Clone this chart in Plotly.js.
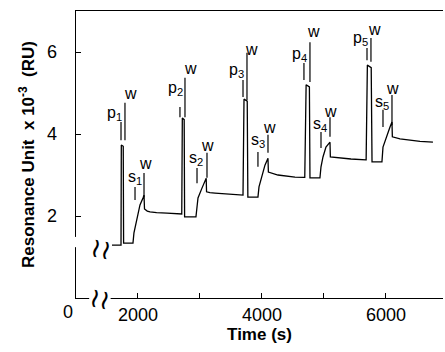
<!DOCTYPE html>
<html>
<head>
<meta charset="utf-8">
<script src="https://cdn.plot.ly/plotly-3.0.1.min.js"></script>
<style>html,body{margin:0;padding:0;background:#fff;}#chart{width:445px;height:352px;}</style>
</head>
<body>
<div id="chart"></div>
<script>
// Sensorgram: time (s) vs resonance units (x10^-3 RU)
const timeSec = [
  1580, 1726, 1731, 1762, 1768, 1919, 1935, 1984, 2032, 2081, 2097, 2105, 2150, 2194, 2300, 2468, 2600, 2700,
  2706, 2715, 2745, 2752, 2935, 2952, 2968, 3032, 3081, 3100, 3106, 3160, 3242, 3452, 3600, 3690,
  3694, 3710, 3762, 3772, 3935, 3952, 4000, 4048, 4097, 4103, 4258, 4400, 4532, 4677,
  4690, 4712, 4765, 4774, 4935, 4952, 4984, 5032, 5097, 5103, 5226, 5435, 5677,
  5680, 5700, 5762, 5775, 5935, 5952, 6016, 6065, 6097, 6103, 6226, 6387, 6550, 6758
];
const resonance = [
  1.29, 1.29, 3.73, 3.70, 1.34, 1.34, 1.59, 1.95, 2.27, 2.44, 2.51, 2.17, 2.12, 2.10, 2.08, 2.07, 2.06, 2.05,
  2.05, 4.39, 4.35, 1.98, 1.98, 2.22, 2.44, 2.68, 2.88, 2.92, 2.59, 2.57, 2.56, 2.54, 2.52, 2.51,
  2.51, 4.85, 4.80, 2.46, 2.46, 2.71, 2.95, 3.24, 3.41, 3.07, 3.00, 2.97, 2.95, 2.94,
  2.94, 5.20, 5.15, 2.93, 2.93, 3.20, 3.44, 3.68, 3.80, 3.44, 3.42, 3.39, 3.37,
  3.37, 5.68, 5.62, 3.32, 3.32, 3.68, 3.98, 4.17, 4.29, 3.93, 3.88, 3.85, 3.82, 3.80
];

// Axis ticks
const xTickVals = [2000, 3000, 4000, 5000, 6000];
const xTickText = ['2000', '', '4000', '', '6000'];
const yTickVals = [2, 4, 6];
const yTickText = ['2', '4', '6'];

// Event labels (text, position) and their marker lines (x, y0, y1)
const labelText = [
  'p<sub>1</sub>', 'w', 's<sub>1</sub>', 'w',
  'p<sub>2</sub>', 'w', 's<sub>2</sub>', 'w',
  'p<sub>3</sub>', 'w', 's<sub>3</sub>', 'w',
  'p<sub>4</sub>', 'w', 's<sub>4</sub>', 'w',
  'p<sub>5</sub>', 'w', 's<sub>5</sub>', 'w'
];
const labelX = [1629, 1871, 1952, 2129, 2597, 2839, 2935, 3129, 3581, 3823, 3935, 4129, 4613, 4823, 4935, 5113, 5597, 5823, 5935, 6113];
const labelY = [4.51, 5.00, 2.95, 3.29, 5.10, 5.59, 3.41, 3.73, 5.54, 6.07, 3.83, 4.17, 5.95, 6.49, 4.24, 4.56, 6.34, 6.56, 4.78, 5.12];
const markX  = [1726, 1790, 1952, 2097, 2677, 2758, 2952, 3113, 3694, 3758, 3935, 4097, 4677, 4774, 4952, 5097, 5694, 5758, 5952, 6097];
const markY0 = [3.85, 3.85, 2.39, 2.46, 4.41, 4.41, 2.80, 2.93, 4.90, 4.83, 3.20, 3.54, 5.32, 5.27, 3.66, 3.93, 5.80, 5.76, 4.17, 4.22];
const markY1 = [4.29, 4.76, 2.71, 3.05, 4.66, 5.37, 3.17, 3.54, 5.32, 5.98, 3.56, 3.98, 5.73, 6.24, 4.05, 4.41, 6.10, 6.34, 4.59, 4.95];

const FONT = 'Liberation Sans, Arial, Helvetica, sans-serif';

const trace = {
  x: timeSec, y: resonance, type: 'scatter', mode: 'lines',
  line: {color: '#000', width: 1.3, shape: 'linear'},
  hoverinfo: 'skip', showlegend: false
};

const annotations = labelText.map((t, i) => ({
  x: labelX[i], y: labelY[i], xref: 'x', yref: 'y', text: t, showarrow: false,
  xanchor: 'center', yanchor: 'middle', font: {family: FONT, size: 16, color: '#000'}
}));
// axis break marks and origin label
annotations.push({x: 1390, y: 0, xref: 'x', yref: 'y', text: '≀≀', textangle: 12, showarrow: false,
  bgcolor: '#fff', font: {family: 'DejaVu Sans', size: 27, color: '#000'}, borderpad: 0});
annotations.push({x: 1400, y: 1.2, xref: 'x', yref: 'y', text: '≀≀', textangle: 12, showarrow: false,
  bgcolor: 'rgba(0,0,0,0)', font: {family: 'DejaVu Sans', size: 27, color: '#000'}, borderpad: 0});
annotations.push({x: -0.022, y: -0.05, xref: 'paper', yref: 'paper', text: '0', showarrow: false,
  xanchor: 'center', yanchor: 'middle', font: {family: FONT, size: 18, color: '#000'}});

const shapes = markX.map((x, i) => ({
  type: 'line', xref: 'x', yref: 'y', x0: x, x1: x, y0: markY0[i], y1: markY1[i],
  line: {color: '#000', width: 1.2}
}));
// gap in y-axis line at the break
shapes.push({type: 'rect', xref: 'paper', yref: 'y', x0: -0.01, x1: 0.01, y0: 1.24, y1: 1.49,
  fillcolor: '#fff', line: {width: 0}, layer: 'above'});

const layout = {
  width: 445, height: 352,
  margin: {l: 76, r: 2, t: 11, b: 54, pad: 0},
  paper_bgcolor: '#fff', plot_bgcolor: '#fff',
  font: {family: FONT, color: '#000'},
  xaxis: {
    range: [1000, 6920], showgrid: false, zeroline: false,
    showline: true, linecolor: '#000', linewidth: 1.3, mirror: true,
    ticks: 'inside', ticklen: 5, tickwidth: 1, tickcolor: '#000',
    tickmode: 'array', tickvals: xTickVals, ticktext: xTickText,
    tickfont: {family: FONT, size: 18, color: '#000'},
    title: {text: '<b>Time (s)</b>', font: {family: FONT, size: 17, color: '#000'}, standoff: 4}
  },
  yaxis: {
    range: [0, 7], showgrid: false, zeroline: false,
    showline: true, linecolor: '#000', linewidth: 1.3,
    ticks: 'inside', ticklen: 5, tickwidth: 1, tickcolor: '#000',
    tickmode: 'array', tickvals: yTickVals, ticktext: yTickText,
    tickfont: {family: FONT, size: 18, color: '#000'}, ticklabelstandoff: 14,
    title: {text: '<b>Resonance Unit  x 10<sup>-3</sup>  (RU)</b>', font: {family: FONT, size: 17, color: '#000'}, standoff: 8}
  },
  annotations: annotations,
  shapes: shapes
};

Plotly.newPlot('chart', [trace], layout, {displayModeBar: false, staticPlot: true});
</script>
</body>
</html>
